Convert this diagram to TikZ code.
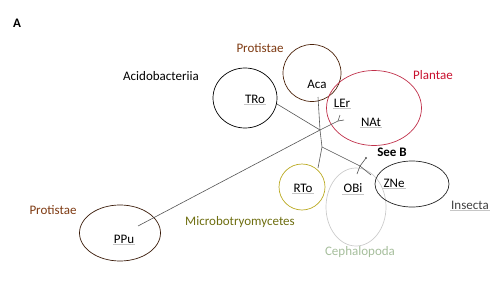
\documentclass[tikz,border=0pt]{standalone}
\usepackage{fontspec}
\setmainfont{Carlito}
\usepackage{xcolor}
\usepackage{tikz}
\usetikzlibrary{shapes.geometric}

\definecolor{protbrown}{HTML}{7E3A12}
\definecolor{plantred}{HTML}{C0304A}
\definecolor{planttext}{HTML}{C8102E}
\definecolor{microolive}{HTML}{6E6E10}
\definecolor{rtoyellow}{HTML}{BBAA22}
\definecolor{cephgreen}{HTML}{A6BE9C}
\definecolor{treegray}{HTML}{555555}

\begin{document}
\begin{tikzpicture}[
    x=1pt, y=-1pt,
    clade/.style={draw, ellipse, inner sep=0pt, line width=0.7pt},
    taxon/.style={font=\fontsize{13}{15}\selectfont, inner sep=1pt},
    species/.style={taxon, append after command={
        ([yshift=-1.5pt]\tikzlastnode.base west) edge[draw=gray!45, line width=0.5pt]
        ([yshift=-1.5pt]\tikzlastnode.base east)}},
    branch/.style={draw=treegray, line width=0.6pt},
]
\useasboundingbox (0,0) rectangle (500,281);

% =============================================
% Clade ellipses
% =============================================
\node[clade, minimum width=64pt, minimum height=60pt] at (245,98) (tro_e) {};
\node[clade, draw=protbrown!60!black, minimum width=58pt, minimum height=57pt] at (312,73) (aca_e) {};
\node[clade, draw=plantred, minimum width=95pt, minimum height=75pt] at (374,108) (plant_e) {};
\node[clade, draw=rtoyellow, minimum width=46pt, minimum height=46pt] at (302,187) (rto_e) {};
\node[clade, draw=gray!40, minimum width=60pt, minimum height=78pt] at (356,207) (obi_e) {};
\node[clade, draw=black!85, minimum width=74pt, minimum height=46pt] at (412,184) (zne_e) {};
\node[clade, draw=protbrown!45!black, minimum width=81pt, minimum height=56pt] at (120,233) (ppu_e) {};

% =============================================
% Species labels
% =============================================
\node[species] at (255,99) (tro) {TRo};
\node[taxon] at (317,84) (aca) {Aca};
\node[species] at (342,103) (ler) {LEr};
\node[species] at (371,122) (nat) {NAt};
\node[species] at (303,188) (rto) {RTo};
\node[species] at (353,188) (obi) {OBi};
\node[species] at (394,183) (zne) {ZNe};
\node[species] at (124,239) (ppu) {PPu};

% =============================================
% Group labels
% =============================================
\node[taxon, font=\fontsize{13}{15}\selectfont\bfseries] at (17,23) (panel) {A};
\node[taxon] at (161,76) (acido) {Acidobacteriia};
\node[taxon, text=protbrown] at (260,48) (prot_top) {Protistae};
\node[taxon, text=planttext] at (433,75) (plantae) {Plantae};
\node[taxon, font=\fontsize{13}{15}\selectfont\bfseries] at (392,152) (seeb) {See B};
\node[species, text=black!75] at (470,205) (insecta) {Insecta};
\node[taxon, text=cephgreen] at (360,252) (ceph) {Cephalopoda};
\node[taxon, text=microolive] at (240,222) (micro) {Microbotryomycetes};
\node[taxon, text=protbrown] at (53,210) (prot_left) {Protistae};

% =============================================
% Tree
% =============================================
\coordinate (root) at (320,130);
\coordinate (mid) at (322,147);
\coordinate (fork_pl) at (338,121);
\coordinate (fork_b) at (360,166);
\coordinate (tip_tro) at (277,104);
\coordinate (tip_aca) at (318,97);
\coordinate (tip_ppu) at (138,226);
\coordinate (tip_ler) at (340,115);
\coordinate (tip_nat) at (344,120);
\coordinate (tip_rto) at (318,168);
\coordinate (tip_see) at (366,158);
\coordinate (tip_obi) at (357,174);
\coordinate (tip_zne) at (371,175);

\draw[branch] (root) -- (tip_tro);
\draw[branch] (root) -- (tip_aca);
\draw[branch] (root) -- (tip_ppu);
\draw[branch] (root) -- (fork_pl);
\draw[branch] (fork_pl) -- (tip_ler);
\draw[branch] (fork_pl) -- (tip_nat);
\draw[branch] (root) -- (mid);
\draw[branch] (mid) -- (tip_rto);
\draw[branch] (mid) -- (fork_b);
\draw[branch] (fork_b) -- (tip_see);
\draw[branch] (fork_b) -- (tip_obi);
\draw[branch] (fork_b) -- (tip_zne);
\fill[treegray] (tip_see) circle (1.2pt);

\end{tikzpicture}
\end{document}
